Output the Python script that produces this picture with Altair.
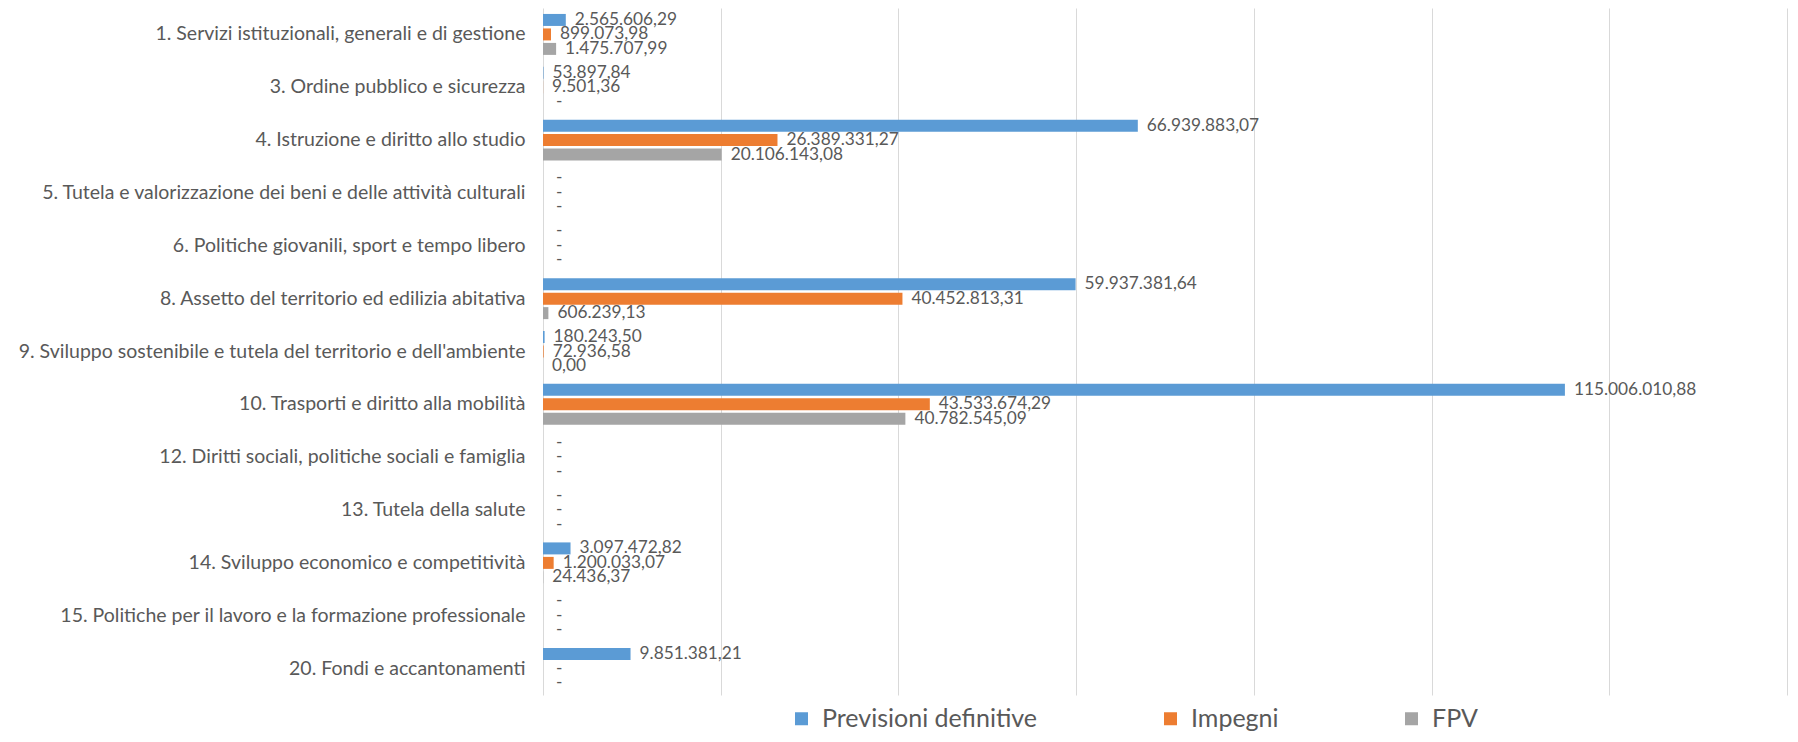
import altair as alt
import pandas as pd

categories = [
    "1. Servizi istituzionali, generali e di gestione",
    "3. Ordine pubblico e sicurezza",
    "4. Istruzione e diritto allo studio",
    "5. Tutela e valorizzazione dei beni e delle attività culturali",
    "6. Politiche giovanili, sport e tempo libero",
    "8. Assetto del territorio ed edilizia abitativa",
    "9. Sviluppo sostenibile e tutela del territorio e dell'ambiente",
    "10. Trasporti e diritto alla mobilità",
    "12. Diritti sociali, politiche sociali e famiglia",
    "13. Tutela della salute",
    "14. Sviluppo economico e competitività",
    "15. Politiche per il lavoro e la formazione professionale",
    "20. Fondi e accantonamenti",
]
previsioni = [2565606.29, 53897.84, 66939883.07, None, None, 59937381.64, 180243.50,
              115006010.88, None, None, 3097472.82, None, 9851381.21]
impegni = [899073.98, 9501.36, 26389331.27, None, None, 40452813.31, 72936.58,
           43533674.29, None, None, 1200033.07, None, None]
fpv = [1475707.99, None, 20106143.08, None, None, 606239.13, 0.00,
       40782545.09, None, None, 24436.37, None, None]
series = ["Previsioni definitive", "Impegni", "FPV"]
colors = ["#5B9BD5", "#ED7D31", "#A5A5A5"]
x_ticks = [0, 20e6, 40e6, 60e6, 80e6, 100e6, 120e6, 140e6]


def fmt(v):
    if v is None:
        return "-"
    s = f"{v:,.2f}"
    return s.replace(",", "X").replace(".", ",").replace("X", ".")


rows = []
for i, cat in enumerate(categories):
    for name, vals in zip(series, [previsioni, impegni, fpv]):
        v = vals[i]
        rows.append({
            "cat": cat,
            "serie": name,
            "val": 0.0 if v is None else v,
            "label": fmt(v),
            "dash": v is None,
        })
df = pd.DataFrame(rows)

TXT = "#595959"
FONT = "Lato"

base = alt.Chart(df).encode(
    y=alt.Y(
        "cat:N",
        sort=categories,
        scale=alt.Scale(paddingInner=0.178, paddingOuter=0.089),
        axis=alt.Axis(title=None, ticks=False, domain=False, labelPadding=18,
                      labelFont=FONT, labelFontSize=19.5, labelColor=TXT, labelLimit=0),
    ),
    yOffset=alt.YOffset("serie:N", sort=series,
                        scale=alt.Scale(paddingInner=0.172, paddingOuter=0.086)),
)

xscale = alt.Scale(domain=[0, 140e6], nice=False, zero=True)

bars = base.mark_bar().encode(
    x=alt.X("val:Q", scale=xscale,
            axis=alt.Axis(values=x_ticks, labels=False, ticks=False, domain=False,
                          grid=True, gridColor="#D9D9D9", gridWidth=1, title=None)),
    color=alt.Color(
        "serie:N", sort=series,
        scale=alt.Scale(domain=series, range=colors),
        legend=alt.Legend(
            title=None, orient="none", legendX=246, legendY=698,
            direction="horizontal", symbolType="square", symbolSize=169,
            symbolStrokeWidth=0, labelFont=FONT, labelFontSize=25, labelColor=TXT,
            columnPadding=120, labelOffset=8, padding=0, labelLimit=0,
        ),
    ),
)

labels = base.mark_text(align="left", baseline="middle", dx=9, font=FONT,
                        fontSize=17.3, color=TXT).encode(
    x=alt.X("val:Q", scale=xscale), text="label:N"
).transform_filter("!datum.dash")

dashes = base.mark_text(align="left", baseline="middle", dx=13, font=FONT,
                        fontSize=17.3, color=TXT).encode(
    x=alt.X("val:Q", scale=xscale), text="label:N"
).transform_filter("datum.dash")

chart = alt.layer(bars, labels, dashes).properties(
    width=1244, height=687,
    autosize=alt.AutoSizeParams(type="none"),
    padding={"left": 535, "top": 0, "right": 2, "bottom": 38},
).configure_view(stroke=None)

chart.save("out.html", embed_options={"renderer": "svg", "actions": False})
